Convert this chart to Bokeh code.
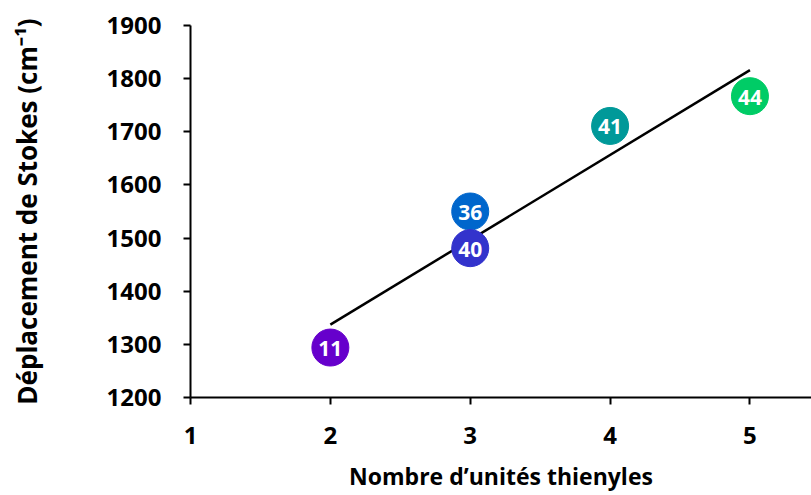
import numpy as np
from bokeh.plotting import figure
from bokeh.models import ColumnDataSource, Range1d, FixedTicker
from bokeh.core.properties import value
from bokeh.embed import file_html
from bokeh.resources import INLINE

# Data
units = [2, 3, 3, 4, 5]
stokes = [1294, 1550, 1481, 1711, 1767]
labels = ["11", "36", "40", "41", "44"]
colors = ["#6600CC", "#0066CC", "#3333CC", "#009999", "#00CC66"]
x_ticks = [1, 2, 3, 4, 5]
y_ticks = [1200, 1300, 1400, 1500, 1600, 1700, 1800, 1900]
x_title = "Nombre d\u2019unit\u00e9s thienyles"
y_title = "D\u00e9placement de Stokes (cm\u207b\u00b9)"

FONT = "Open Sans"

p = figure(width=811, height=495, output_backend="svg", toolbar_location=None,
           x_range=Range1d(1, 5.44), y_range=Range1d(1200, 1900),
           min_border_left=190, min_border_top=25, min_border_right=0,
           min_border_bottom=98)
p.outline_line_color = None
p.grid.visible = False

# Linear trend line computed from the data
slope, intercept = np.polyfit(units, stokes, 1)
xf = np.array([min(units), max(units)])
p.line(xf, slope * xf + intercept, line_color="black", line_width=2.5)

src = ColumnDataSource(dict(x=units, y=stokes, t=labels, c=colors))
p.scatter("x", "y", source=src, size=37, fill_color="c", line_color="c")
p.text("x", "y", text="t", source=src, text_color="white",
       text_font=value(FONT), text_font_style="bold", text_font_size="21px",
       text_align="center", text_baseline="middle", y_offset=1)

for ax in (p.xaxis[0], p.yaxis[0]):
    ax.axis_line_width = 2
    ax.axis_line_color = "black"
    ax.major_tick_line_width = 2
    ax.major_tick_line_color = "black"
    ax.major_tick_in = 0
    ax.major_tick_out = 7
    ax.minor_tick_line_color = None
    ax.major_label_text_font = FONT
    ax.major_label_text_font_style = "bold"
    ax.major_label_text_font_size = "24px"
    ax.major_label_text_color = "black"
    ax.axis_label_text_font = FONT
    ax.axis_label_text_font_style = "bold"
    ax.axis_label_text_color = "black"

p.xaxis.axis_label_text_font_size = "23px"
p.yaxis.axis_label_text_font_size = "26px"
p.xaxis.ticker = FixedTicker(ticks=x_ticks)
p.yaxis.ticker = FixedTicker(ticks=y_ticks)
p.xaxis.axis_label = x_title
p.yaxis.axis_label = y_title
p.xaxis.major_label_standoff = 22
p.xaxis.axis_label_standoff = 13
p.yaxis.major_label_standoff = 22
p.yaxis.axis_label_standoff = 59

open("out.html", "w").write(file_html(p, INLINE))
